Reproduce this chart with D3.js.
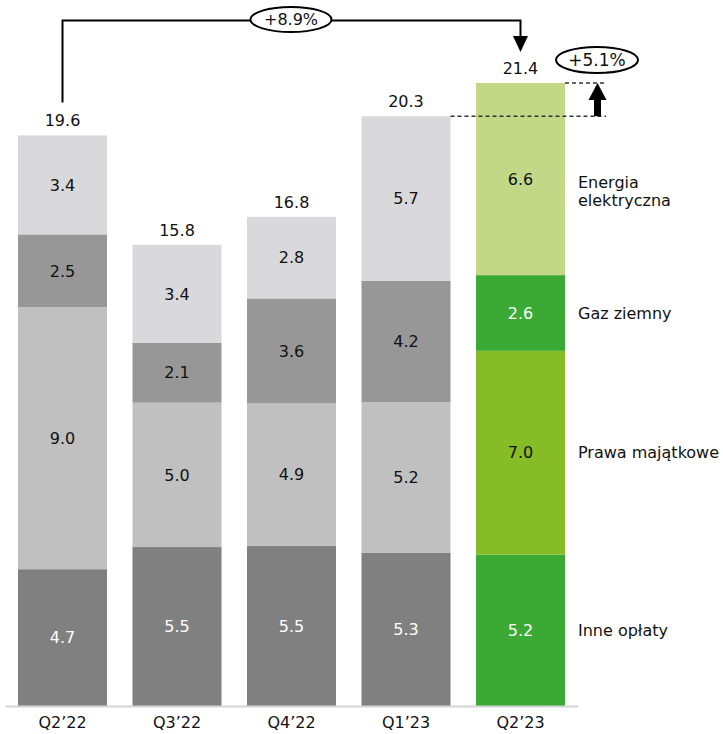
<!DOCTYPE html>
<html>
<head>
<meta charset="utf-8">
<script src="https://cdn.jsdelivr.net/npm/d3@7"></script>
<style>
  html, body { margin: 0; padding: 0; background: #fff; }
  svg { display: block; font-family: "DejaVu Sans", Verdana, sans-serif; }
</style>
</head>
<body>
<svg id="chart" width="723" height="734"></svg>
<script>
// Quarters on the x axis
const quarters = ["Q2’22", "Q3’22", "Q4’22", "Q1’23", "Q2’23"];
// Cost components, stacked bottom to top
const components = ["Inne opłaty", "Prawa majątkowe", "Gaz ziemny", "Energia elektryczna"];
const legendLines = [["Inne opłaty"], ["Prawa majątkowe"], ["Gaz ziemny"], ["Energia", "elektryczna"]];

// Values per component (PLN bn), one per quarter
const inneOplaty      = [4.70, 5.46, 5.50, 5.27, 5.20];
const prawaMajatkowe  = [9.00, 4.96, 4.90, 5.17, 7.00];
const gazZiemny       = [2.50, 2.06, 3.60, 4.16, 2.60];
const energiaElektr   = [3.40, 3.36, 2.80, 5.66, 6.60];

// Change annotations
const yearChange = "+8.9%";
const quarterChange = "+5.1%";

const greyColors  = ["#808080", "#c0c0c0", "#979797", "#d9d9db"];
const greenColors = ["#3aaa35", "#86bc25", "#3aaa35", "#c2d886"];
const greyText    = ["#ffffff", "#111111", "#111111", "#111111"];
const greenText   = ["#ffffff", "#111111", "#ffffff", "#111111"];

const series = [inneOplaty, prawaMajatkowe, gazZiemny, energiaElektr];
const rows = quarters.map((q, i) => {
  const r = { quarter: q };
  components.forEach((c, k) => { r[c] = series[k][i]; });
  return r;
});
const stacked = d3.stack().keys(components)(rows);
const totals = rows.map(r => d3.sum(components, c => r[c]));

const fmt = d3.format(".1f");
const svg = d3.select("#chart");
const FS = 16;

const x = d3.scaleBand()
  .domain(quarters)
  .range([5.25, 577.75])
  .paddingInner(0.2227)
  .paddingOuter(0.1114);

const y = d3.scaleLinear()
  .domain([0, d3.max(totals)])
  .range([706, 83]);

const last = quarters.length - 1;

// Stacked bars
const layers = svg.append("g").selectAll("g")
  .data(stacked)
  .join("g");

layers.selectAll("rect")
  .data((d, k) => d.map((p, i) => ({ p, k, i })))
  .join("rect")
  .attr("x", d => x(quarters[d.i]))
  .attr("width", x.bandwidth())
  .attr("y", d => y(d.p[1]))
  .attr("height", d => y(d.p[0]) - y(d.p[1]))
  .attr("fill", d => d.i === last ? greenColors[d.k] : greyColors[d.k]);

// Segment value labels
layers.selectAll("text")
  .data((d, k) => d.map((p, i) => ({ p, k, i })))
  .join("text")
  .attr("x", d => x(quarters[d.i]) + x.bandwidth() / 2)
  .attr("y", d => (y(d.p[0]) + y(d.p[1])) / 2)
  .attr("dy", "0.36em")
  .attr("text-anchor", "middle")
  .attr("font-size", FS)
  .attr("fill", d => d.i === last ? greenText[d.k] : greyText[d.k])
  .text(d => fmt(d.p[1] - d.p[0]));

// Totals above bars
svg.append("g").selectAll("text")
  .data(totals)
  .join("text")
  .attr("x", (d, i) => x(quarters[i]) + x.bandwidth() / 2)
  .attr("y", d => y(d) - 9)
  .attr("text-anchor", "middle")
  .attr("font-size", FS)
  .attr("fill", "#111")
  .text(d => fmt(d));

// X axis
const axis = svg.append("g")
  .attr("transform", `translate(0,${y(0)})`)
  .call(d3.axisBottom(x).tickSize(0).tickPadding(11).tickSizeOuter(0));
axis.select(".domain").attr("stroke", "#d4d4d4").attr("stroke-width", 2);
axis.selectAll("text").attr("font-size", FS).attr("fill", "#111")
  .attr("font-family", "\"DejaVu Sans\", Verdana, sans-serif");

// Component labels beside the last bar
const lastStack = stacked.map(s => s[last]);
const legend = svg.append("g");
const legendX = x(quarters[last]) + x.bandwidth() + 13;
legendLines.forEach((lines, k) => {
  const mid = (y(lastStack[k][0]) + y(lastStack[k][1])) / 2;
  const t = legend.append("text")
    .attr("x", legendX)
    .attr("y", lines.length > 1 ? mid + 9 : mid)
    .attr("font-size", FS)
    .attr("fill", "#111");
  lines.forEach((ln, j) => {
    t.append("tspan")
      .attr("x", legendX)
      .attr("dy", j === 0 ? (lines.length > 1 ? "0" : "0.36em") : "1.12em")
      .text(ln);
  });
});

// Year-on-year bracket
const xa = x(quarters[0]) + x.bandwidth() / 2;
const xb = x(quarters[last]) + x.bandwidth() / 2;
const topY = 20.5;
const tipY = y(totals[last]) - 31;
svg.append("path")
  .attr("d", `M${xa},${y(totals[0]) - 33} V${topY} H${xb} V${tipY - 14}`)
  .attr("fill", "none")
  .attr("stroke", "#000")
  .attr("stroke-width", 2);
svg.append("path")
  .attr("d", `M${xb - 7.5},${tipY - 16} L${xb + 7.5},${tipY - 16} L${xb},${tipY} Z`)
  .attr("fill", "#000");
const ex = 291;
svg.append("ellipse")
  .attr("cx", ex).attr("cy", topY - 1).attr("rx", 40.5).attr("ry", 12.5)
  .attr("fill", "#fff").attr("stroke", "#000").attr("stroke-width", 2);
svg.append("text")
  .attr("x", ex).attr("y", topY - 1).attr("dy", "0.36em")
  .attr("text-anchor", "middle").attr("font-size", FS).attr("fill", "#111")
  .text(yearChange);

// Quarter-on-quarter step
const prevTop = y(totals[last - 1]);
const curTop = y(totals[last]);
const dashEnd = 606;
svg.append("line")
  .attr("x1", x(quarters[last - 1]) + x.bandwidth()).attr("x2", dashEnd)
  .attr("y1", prevTop).attr("y2", prevTop)
  .attr("stroke", "#333").attr("stroke-width", 1.5).attr("stroke-dasharray", "4,3");
svg.append("line")
  .attr("x1", x(quarters[last]) + x.bandwidth()).attr("x2", dashEnd)
  .attr("y1", curTop).attr("y2", curTop)
  .attr("stroke", "#333").attr("stroke-width", 1.5).attr("stroke-dasharray", "4,3");
const ax = 597.5;
svg.append("line")
  .attr("x1", ax).attr("x2", ax).attr("y1", prevTop).attr("y2", curTop + 14)
  .attr("stroke", "#000").attr("stroke-width", 7);
svg.append("path")
  .attr("d", `M${ax - 9},${curTop + 17} L${ax + 9},${curTop + 17} L${ax},${curTop} Z`)
  .attr("fill", "#000");
svg.append("ellipse")
  .attr("cx", 597).attr("cy", 60).attr("rx", 41).attr("ry", 13)
  .attr("fill", "#fff").attr("stroke", "#000").attr("stroke-width", 2);
svg.append("text")
  .attr("x", 597).attr("y", 60).attr("dy", "0.36em")
  .attr("text-anchor", "middle").attr("font-size", FS + 1).attr("fill", "#111")
  .text(quarterChange);
</script>
</body>
</html>
